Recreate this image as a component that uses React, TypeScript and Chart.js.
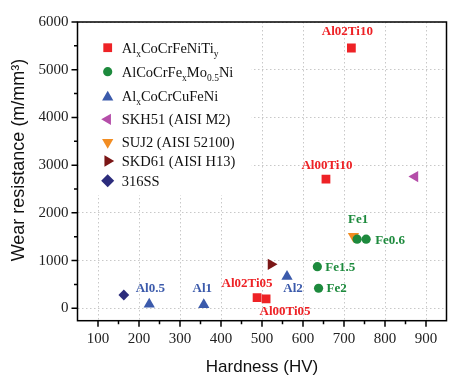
import React, { useEffect, useRef } from 'react';
import { Chart, registerables } from 'chart.js';

Chart.register(...registerables);

// ---- data ----
const tiHardness = [718, 656, 488, 510];
const tiWear = [5455, 2705, 222, 195];
const tiNames = ['Al02Ti10', 'Al00Ti10', 'Al02Ti05', 'Al00Ti05'];

const feHardness = [732, 754, 635, 638];
const feWear = [1448, 1448, 872, 420];
const feNames = ['Fe1', 'Fe0.6', 'Fe1.5', 'Fe2'];

const cuHardness = [225, 358, 561];
const cuWear = [86, 74, 667];
const cuNames = ['Al0.5', 'Al1', 'Al2'];

const skh51Hardness = [873];
const skh51Wear = [2760];
const suj2Hardness = [723];
const suj2Wear = [1512];
const skd61Hardness = [522];
const skd61Wear = [922];
const ss316Hardness = [163];
const ss316Wear = [279];

const xTickValues = [100, 200, 300, 400, 500, 600, 700, 800, 900];
const yTickValues = [0, 1000, 2000, 3000, 4000, 5000, 6000];
const xMinorValues = [150, 250, 350, 450, 550, 650, 750, 850];
const yMinorValues = [500, 1500, 2500, 3500, 4500, 5500];

// label placement (pixel offsets from the marker) for point annotations
const tiLabelPos = [[-4, -16, 'center'], [1, -14, 'center'], [-10, -14, 'center'], [19, 13, 'center']];
const feLabelPos = [[1, -20, 'center'], [9, 1.5, 'left'], [8, 0.6, 'left'], [8, 0.7, 'left']];
const cuLabelPos = [[1, -16, 'center'], [-1.5, -16.5, 'center'], [6, 12.5, 'center']];

const RED = '#ee2226';
const GREEN = '#1d8a3d';
const BLUE = '#3b5aab';
const MAGENTA = '#b54ea9';
const ORANGE = '#f28d22';
const DARKRED = '#7b1616';
const NAVY = '#2c2c7c';

const toPts = (xs: number[], ys: number[]) => xs.map((x, i) => ({ x, y: ys[i] }));

type Seg = { t: string; sub?: boolean };
const legendItems: { segs: Seg[]; style: string; rot: number; color: string; y: number }[] = [
  { segs: [{ t: 'Al' }, { t: 'x', sub: true }, { t: 'CoCrFeNiTi' }, { t: 'y', sub: true }], style: 'rect', rot: 0, color: RED, y: 25.7 },
  { segs: [{ t: 'AlCoCrFe' }, { t: 'x', sub: true }, { t: 'Mo' }, { t: '0.5', sub: true }, { t: 'Ni' }], style: 'circle', rot: 0, color: GREEN, y: 49.7 },
  { segs: [{ t: 'Al' }, { t: 'x', sub: true }, { t: 'CoCrCuFeNi' }], style: 'triangle', rot: 0, color: BLUE, y: 73.7 },
  { segs: [{ t: 'SKH51 (AISI M2)' }], style: 'triangle', rot: -90, color: MAGENTA, y: 97.3 },
  { segs: [{ t: 'SUJ2 (AISI 52100)' }], style: 'triangle', rot: 180, color: ORANGE, y: 120.3 },
  { segs: [{ t: 'SKD61 (AISI H13)' }], style: 'triangle', rot: 90, color: DARKRED, y: 139 },
  { segs: [{ t: '316SS' }], style: 'rectRot', rot: 0, color: NAVY, y: 158.7 },
];

function drawMarker(ctx: CanvasRenderingContext2D, style: string, x: number, y: number, r: number, rotDeg: number, color: string) {
  ctx.save();
  ctx.fillStyle = color;
  ctx.beginPath();
  const rad = (rotDeg * Math.PI) / 180;
  if (style === 'rect') {
    const s = Math.SQRT1_2 * r;
    ctx.rect(x - s, y - s, 2 * s, 2 * s);
  } else if (style === 'circle') {
    ctx.arc(x, y, r, 0, Math.PI * 2);
  } else if (style === 'triangle') {
    let a = rad;
    ctx.moveTo(x + Math.sin(a) * r, y - Math.cos(a) * r);
    a += (2 * Math.PI) / 3;
    ctx.lineTo(x + Math.sin(a) * r, y - Math.cos(a) * r);
    a += (2 * Math.PI) / 3;
    ctx.lineTo(x + Math.sin(a) * r, y - Math.cos(a) * r);
    ctx.closePath();
  } else if (style === 'rectRot') {
    ctx.moveTo(x - r, y);
    ctx.lineTo(x, y - r);
    ctx.lineTo(x + r, y);
    ctx.lineTo(x, y + r);
    ctx.closePath();
  }
  ctx.fill();
  ctx.restore();
}

const overlayPlugin = {
  id: 'overlay',
  beforeDatasetsDraw(chart: any) {
    const { ctx, chartArea } = chart;
    ctx.save();
    // legend box (white background hiding gridlines)
    ctx.fillStyle = '#ffffff';
    ctx.fillRect(chartArea.left + 1, chartArea.top + 1, 173, 172);
    const mx = chartArea.left + 30.2;
    const tx = chartArea.left + 44.2;
    for (const it of legendItems) {
      const cy = chartArea.top + it.y;
      const r = it.style === 'circle' ? 4.6 : it.style === 'rect' ? 6.2 : 6.5;
      drawMarker(ctx, it.style, mx, cy + (it.style === 'triangle' && it.rot === 0 ? 1.5 : 0), r, it.rot, it.color);
      let x = tx;
      ctx.fillStyle = '#111111';
      ctx.textBaseline = 'alphabetic';
      ctx.textAlign = 'left';
      for (const s of it.segs) {
        if (s.sub) {
          ctx.font = '9.5px "Liberation Serif", serif';
          ctx.fillText(s.t, x, cy + 5 + 4);
        } else {
          ctx.font = '14.5px "Liberation Serif", serif';
          ctx.fillText(s.t, x, cy + 5);
        }
        x += ctx.measureText(s.t).width;
      }
    }
    ctx.restore();
  },
  afterDatasetsDraw(chart: any) {
    const { ctx } = chart;
    const groups: [number, string[], any[], string][] = [
      [0, tiNames, tiLabelPos, RED],
      [1, feNames, feLabelPos, GREEN],
      [2, cuNames, cuLabelPos, BLUE],
    ];
    ctx.save();
    ctx.font = 'bold 13px "Liberation Serif", serif';
    ctx.textBaseline = 'middle';
    for (const [di, names, pos, color] of groups) {
      const meta = chart.getDatasetMeta(di);
      ctx.fillStyle = color;
      names.forEach((n, i) => {
        const el = meta.data[i];
        const [dx, dy, al] = pos[i];
        ctx.textAlign = al;
        ctx.fillText(n, el.x + dx, el.y + dy);
      });
    }
    ctx.restore();
  },
  afterDraw(chart: any) {
    const { ctx, chartArea, scales } = chart;
    const { left, right, top, bottom } = chartArea;
    ctx.save();
    ctx.strokeStyle = '#000000';
    ctx.lineWidth = 1.5;
    ctx.strokeRect(left, top, right - left, bottom - top);
    ctx.beginPath();
    for (const v of xTickValues) {
      const px = scales.x.getPixelForValue(v);
      ctx.moveTo(px, bottom);
      ctx.lineTo(px, bottom + 6);
    }
    for (const v of xMinorValues) {
      const px = scales.x.getPixelForValue(v);
      ctx.moveTo(px, bottom);
      ctx.lineTo(px, bottom + 3.5);
    }
    for (const v of yTickValues) {
      const py = scales.y.getPixelForValue(v);
      ctx.moveTo(left, py);
      ctx.lineTo(left - 6, py);
    }
    for (const v of yMinorValues) {
      const py = scales.y.getPixelForValue(v);
      ctx.moveTo(left, py);
      ctx.lineTo(left - 3.5, py);
    }
    ctx.stroke();

    // axis titles
    ctx.fillStyle = '#111111';
    ctx.font = '17px "Liberation Sans", Arial, sans-serif';
    ctx.textAlign = 'center';
    ctx.textBaseline = 'middle';
    ctx.fillText('Hardness (HV)', (left + right) / 2, 367);
    ctx.translate(19, 160);
    ctx.rotate(-Math.PI / 2);
    ctx.font = '18px "Liberation Sans", Arial, sans-serif';
    ctx.fillText('Wear resistance (m/mm\u00B3)', 0, 0);
    ctx.restore();
  },
};

export default function App() {
  const ref = useRef<HTMLCanvasElement>(null);
  useEffect(() => {
    if (!ref.current) return;
    const noBorder = { borderWidth: 0 };
    const chart = new Chart(ref.current, {
      type: 'scatter',
      data: {
        datasets: [
          { label: 'AlxCoCrFeNiTiy', data: toPts(tiHardness, tiWear), pointStyle: 'rect', radius: 6.2, backgroundColor: RED, borderColor: RED, ...noBorder },
          { label: 'AlCoCrFexMo0.5Ni', data: toPts(feHardness, feWear), pointStyle: 'circle', radius: 4.6, backgroundColor: GREEN, borderColor: GREEN, ...noBorder },
          { label: 'AlxCoCrCuFeNi', data: toPts(cuHardness, cuWear), pointStyle: 'triangle', radius: 6.5, backgroundColor: BLUE, borderColor: BLUE, ...noBorder },
          { label: 'SKH51 (AISI M2)', data: toPts(skh51Hardness, skh51Wear), pointStyle: 'triangle', rotation: -90, radius: 6.5, backgroundColor: MAGENTA, borderColor: MAGENTA, ...noBorder },
          { label: 'SUJ2 (AISI 52100)', data: toPts(suj2Hardness, suj2Wear), pointStyle: 'triangle', rotation: 180, radius: 6.5, backgroundColor: ORANGE, borderColor: ORANGE, ...noBorder },
          { label: 'SKD61 (AISI H13)', data: toPts(skd61Hardness, skd61Wear), pointStyle: 'triangle', rotation: 90, radius: 6.5, backgroundColor: DARKRED, borderColor: DARKRED, ...noBorder },
          { label: '316SS', data: toPts(ss316Hardness, ss316Wear), pointStyle: 'rectRot', radius: 5.4, backgroundColor: NAVY, borderColor: NAVY, ...noBorder },
        ] as any,
      },
      options: {
        animation: false,
        responsive: false,
        devicePixelRatio: 1,
        layout: { padding: { left: 0, top: 22, right: 11.5, bottom: 0 } },
        plugins: { legend: { display: false }, tooltip: { enabled: false } },
        scales: {
          x: {
            type: 'linear',
            min: 50,
            max: 950,
            afterBuildTicks: (s: any) => { s.ticks = xTickValues.map((v) => ({ value: v })); },
            afterFit: (s: any) => { s.height = 62.3; },
            grid: { color: '#c8c8c8', lineWidth: 1, drawTicks: false },
            border: { display: false, dash: [1.5, 2.5] },
            ticks: {
              padding: 9,
              color: '#222222',
              font: { family: '"Liberation Serif", serif', size: 15 },
              maxRotation: 0,
              callback: (v: any) => String(v),
            },
          },
          y: {
            type: 'linear',
            min: -260,
            max: 6000,
            afterBuildTicks: (s: any) => { s.ticks = yTickValues.map((v) => ({ value: v })); },
            afterFit: (s: any) => { s.width = 77.5; },
            grid: { color: '#c8c8c8', lineWidth: 1, drawTicks: false },
            border: { display: false, dash: [1.5, 2.5] },
            ticks: {
              padding: 9,
              color: '#222222',
              font: { family: '"Liberation Serif", serif', size: 15 },
              callback: (v: any) => String(v),
            },
          },
        },
      } as any,
      plugins: [overlayPlugin],
    });
    return () => chart.destroy();
  }, []);
  return (
    <div style={{ position: 'absolute', left: 0, top: 0, width: 458, height: 383, background: '#fff' }}>
      <canvas ref={ref} width={458} height={383} />
    </div>
  );
}
